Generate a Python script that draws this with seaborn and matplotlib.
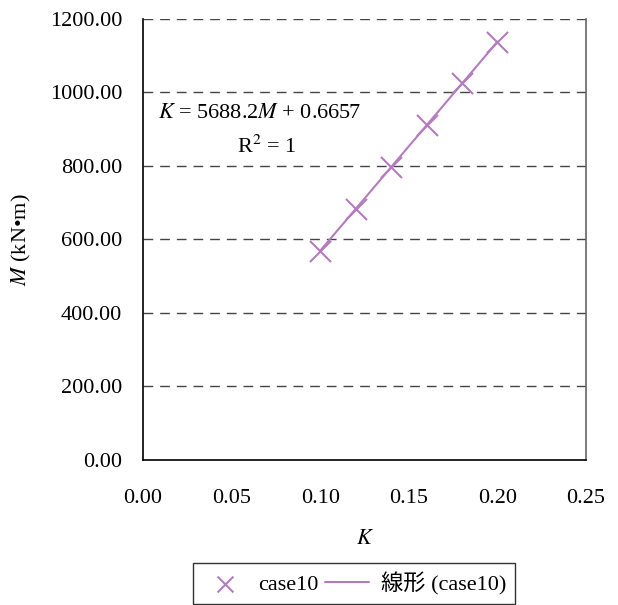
import numpy as np
import pandas as pd
import matplotlib
matplotlib.use("Agg")
import matplotlib.pyplot as plt
import seaborn as sns

# Data: curvature K vs. moment M for case10
k_values = [0.10, 0.12, 0.14, 0.16, 0.18, 0.20]
m_values = [569.5, 683.2, 797.0, 910.8, 1024.5, 1138.3]
x_ticks = [0.00, 0.05, 0.10, 0.15, 0.20, 0.25]
y_ticks = [0, 200, 400, 600, 800, 1000, 1200]
series_name = "case10"
trend_name = "線形 (case10)"
equation_text = "$\\it{K}$ = 5688.2$\\it{M}$ + 0.6657"
r2_text = "R$^2$ = 1"

sns.set_theme(style="white")
plt.rcParams["font.family"] = ["Liberation Serif", "Noto Sans CJK JP"]
plt.rcParams["mathtext.fontset"] = "stix"
plt.rcParams["text.color"] = "black"
plt.rcParams["axes.labelcolor"] = "black"

FS = 16
purple = "#b47cbf"

df = pd.DataFrame({"K": k_values, "M": m_values})
slope, intercept = np.polyfit(df["K"], df["M"], 1)
fit = pd.DataFrame({"K": df["K"], "M": slope * df["K"] + intercept})

fig = plt.figure(figsize=(6.18, 6.05), dpi=100)
ax = fig.add_axes([0.2314, 0.2397, 0.717, 0.7289])

ax.set_xlim(0, 0.25)
ax.set_ylim(0, 1200)
ax.set_xticks(x_ticks)
ax.set_yticks(y_ticks)
ax.set_xticklabels([f"{t:.2f}" for t in x_ticks], fontsize=FS)
ax.set_yticklabels([f"{t:.2f}" for t in y_ticks], fontsize=FS)

for y in y_ticks[1:]:
    ax.axhline(y, color="#444444", lw=1.0, ls=(0, (7, 5)), zorder=1)

sns.scatterplot(data=df, x="K", y="M", ax=ax, marker="x", s=230,
                color=purple, linewidth=1.5, zorder=3, label=series_name,
                legend=False)
sns.lineplot(data=fit, x="K", y="M", ax=ax, color=purple, lw=1.5,
             zorder=2, label=trend_name, legend=False)

ax.spines["top"].set_visible(False)
ax.spines["left"].set_color("black")
ax.spines["bottom"].set_color("black")
ax.spines["right"].set_color("#666666")
for s in ax.spines.values():
    s.set_linewidth(1.2)

ax.tick_params(axis="x", direction="in", length=5, width=1, color="black",
               pad=21, labelcolor="black")
ax.tick_params(axis="y", direction="out", length=3, width=1, color="black",
               pad=12, labelcolor="black")

ax.set_xlabel("$\\it{K}$", fontsize=FS, labelpad=16)
ax.set_ylabel("$\\it{M}$ (kN•m)", fontsize=FS, labelpad=12)

ax.text(0.0085, 944, equation_text, fontsize=FS, ha="left", va="center")
ax.text(0.070, 852, r2_text, fontsize=FS, ha="center", va="center")

handles, labels = ax.get_legend_handles_labels()
leg = fig.legend(handles, labels, loc="upper center",
                 bbox_to_anchor=(0.573, 0.0694), ncol=2, fontsize=FS,
                 frameon=True, fancybox=False, edgecolor="black",
                 handlelength=2.0, columnspacing=0.3, handletextpad=0.5,
                 borderpad=0.4, borderaxespad=0.0, markerscale=0.75)
leg.get_frame().set_linewidth(1.0)

fig.savefig("out.png", dpi=100, facecolor="white")
